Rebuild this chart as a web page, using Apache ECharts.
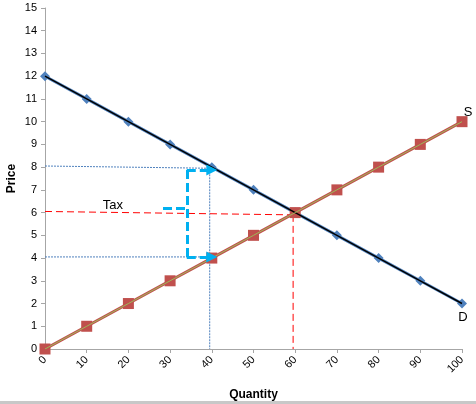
<!DOCTYPE html>
<html>
<head>
<meta charset="utf-8">
<script src="https://cdn.jsdelivr.net/npm/echarts@6/dist/echarts.min.js"></script>
<style>
  html, body { margin: 0; padding: 0; background: #fff; }
  #chart { width: 476px; height: 404px; }
</style>
</head>
<body>
<div id="chart"></div>
<script>
// quantities on the x axis
var quantity = [0, 10, 20, 30, 40, 50, 60, 70, 80, 90, 100];
// demand and supply prices
var demandPrice = [12, 11, 10, 9, 8, 7, 6, 5, 4, 3, 2];
var supplyPrice = [0, 1, 2, 3, 4, 5, 6, 7, 8, 9, 10];

// guide lines (dotted blue for the taxed prices, dashed red for equilibrium)
var buyerPriceLine = [[0, 8.05], [39.5, 7.95]];
var sellerPriceLine = [[0, 4.05], [39.5, 4.05]];
var taxQtyLine = [[39.5, 7.95], [39.5, 0]];
var eqPriceLine = [[0, 6.05], [59.5, 5.9]];
var eqQtyLine = [[59.5, 5.9], [59.5, 0]];

// tax bracket (light blue arrows)
var taxTick = [[28.3, 6.2], [34, 6.2]];
var taxSpan = [[34, 7.87], [34, 4.05]];
var taxTopArrow = [[34, 7.87], [40, 7.87]];
var taxBottomArrow = [[34, 4.05], [40, 4.05]];
var taxLabelPos = [16.3, 6.3];

function zip(xs, ys) {
  return xs.map(function (x, i) { return [x, ys[i]]; });
}

var font = 'Liberation Sans';
var myChart = echarts.init(document.getElementById('chart'));

function guide(data, color, type, width) {
  return {
    type: 'line',
    data: data,
    symbol: 'none',
    silent: true,
    z: 1,
    lineStyle: { color: color, width: width, type: type }
  };
}

function seg(pair) {
  return [{ coord: pair[0] }, { coord: pair[1] }];
}

function arrow(pair) {
  return [
    { coord: pair[0], symbol: 'none' },
    { coord: pair[1], symbol: 'triangle', symbolSize: [11, 11], symbolRotate: -90 }
  ];
}

function lastLabel(text) {
  return function (p) { return p.dataIndex === quantity.length - 1 ? text : ''; };
}

option = {
  animation: false,
  grid: { left: 45, right: 14, top: 8, bottom: 55, containLabel: false, outerBoundsMode: 'none' },
  xAxis: {
    type: 'value',
    min: 0,
    max: 100,
    interval: 10,
    name: 'Quantity',
    nameLocation: 'middle',
    nameGap: 40,
    nameMoveOverlap: false,
    nameTextStyle: { fontFamily: font, fontSize: 12, fontWeight: 'bold', color: '#000' },
    axisLine: { lineStyle: { color: '#a6a6a6' } },
    axisTick: { show: true, length: 4, lineStyle: { color: '#a6a6a6' } },
    axisLabel: { rotate: 45, fontFamily: font, fontSize: 11, color: '#000', margin: 9 },
    splitLine: { show: false }
  },
  yAxis: {
    type: 'value',
    min: 0,
    max: 15,
    interval: 1,
    name: 'Price',
    nameLocation: 'middle',
    nameGap: 27,
    nameMoveOverlap: false,
    nameRotate: 90,
    nameTextStyle: { fontFamily: font, fontSize: 12, fontWeight: 'bold', color: '#000' },
    axisLine: { show: true, lineStyle: { color: '#a6a6a6' } },
    axisTick: { show: true, length: 4, lineStyle: { color: '#a6a6a6' } },
    axisLabel: { fontFamily: font, fontSize: 11, color: '#000', margin: 8 },
    splitLine: { show: false }
  },
  series: [
    guide(buyerPriceLine, '#4f81bd', [2, 1], 1),
    guide(sellerPriceLine, '#4f81bd', [2, 1], 1),
    guide(taxQtyLine, '#4f81bd', [2, 1], 1),
    guide(eqPriceLine, '#ff0000', [7, 4], 1),
    guide(eqQtyLine, '#ff0000', [7, 4], 1),
    {
      // demand
      type: 'line',
      data: zip(quantity, demandPrice),
      symbol: 'diamond',
      symbolSize: 10,
      z: 3,
      itemStyle: { color: '#4f81bd' },
      lineStyle: { color: '#4f81bd', width: 3 },
      label: {
        show: true,
        position: 'bottom',
        offset: [1, -3],
        fontFamily: font,
        fontSize: 13,
        color: '#000',
        formatter: lastLabel('D')
      }
    },
    {
      // demand trendline
      type: 'line',
      data: zip(quantity, demandPrice),
      symbol: 'none',
      z: 4,
      silent: true,
      lineStyle: { color: '#000', width: 1.5 }
    },
    {
      // supply
      type: 'line',
      data: zip(quantity, supplyPrice),
      symbol: 'rect',
      symbolSize: 11,
      z: 3,
      itemStyle: { color: '#c0504d' },
      lineStyle: { color: '#c0504d', width: 3 },
      label: {
        show: true,
        position: 'top',
        offset: [6, 8],
        fontFamily: font,
        fontSize: 13,
        color: '#000',
        formatter: lastLabel('S')
      }
    },
    {
      // supply trendline
      type: 'line',
      data: zip(quantity, supplyPrice),
      symbol: 'none',
      z: 4,
      silent: true,
      lineStyle: { color: '#9bbb59', width: 1 }
    },
    {
      // tax bracket
      type: 'line',
      data: [],
      z: 5,
      markLine: {
        silent: true,
        symbol: 'none',
        lineStyle: { color: '#00b0f0', width: 3, type: [9, 4] },
        label: { show: false },
        data: [seg(taxTick), seg(taxSpan), arrow(taxTopArrow), arrow(taxBottomArrow)]
      },
      markPoint: {
        silent: true,
        symbol: 'circle',
        symbolSize: 0,
        label: {
          show: true,
          formatter: 'Tax',
          fontFamily: font,
          fontSize: 13,
          color: '#000'
        },
        data: [{ coord: taxLabelPos }]
      }
    }
  ],
  graphic: [{
    type: 'rect',
    left: 0,
    bottom: 0,
    shape: { width: 476, height: 3 },
    style: { fill: '#c8c8c8' }
  }]
};

myChart.setOption(option);
</script>
</body>
</html>
